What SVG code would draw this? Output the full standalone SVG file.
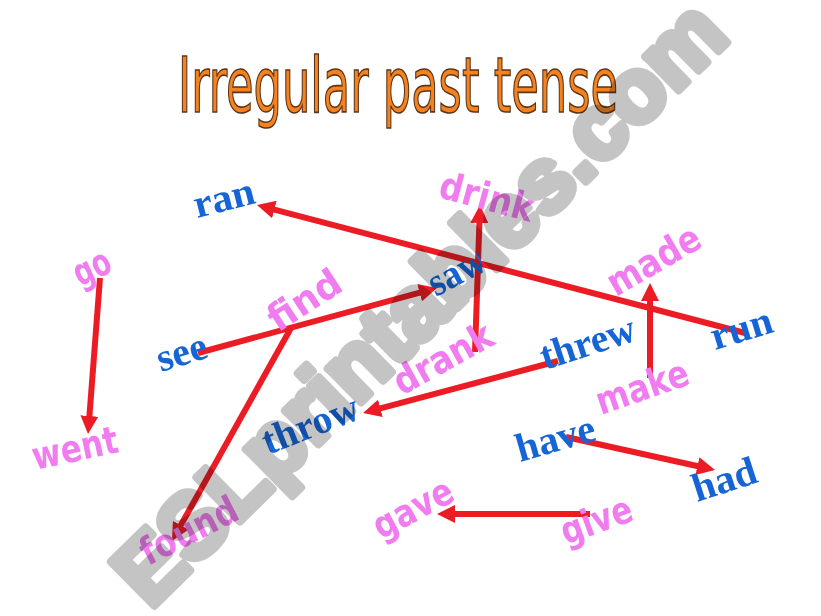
<svg xmlns="http://www.w3.org/2000/svg" width="821" height="616" viewBox="0 0 821 616">
<style>
.title{font-family:"DejaVu Sans Condensed","DejaVu Sans",sans-serif;font-size:76px;fill:#F5821F;stroke:#5A3518;stroke-width:1.6px}
.pink{font-family:"DejaVu Sans","Liberation Sans",sans-serif;font-weight:bold;font-size:38px;fill:#F07CF0}
.blue{font-family:"Liberation Serif","Times New Roman",serif;font-weight:bold;font-size:40px;fill:#1565D6}
.arr{fill:none;stroke:#EC1C24;stroke-width:6;marker-end:url(#ah)}
.wm{font-family:"Liberation Sans",Arial,sans-serif;font-weight:bold;font-size:90px;fill:#C4C4C4;stroke:#C4C4C4;stroke-width:8px;stroke-linejoin:round;mix-blend-mode:multiply}
</style>
<defs>
<marker id="ah" markerUnits="userSpaceOnUse" markerWidth="18" markerHeight="18" refX="3" refY="9" orient="auto">
<path d="M0,0 L18,9 L0,18 z" fill="#EC1C24"/>
</marker>
</defs>
<rect width="821" height="616" fill="#ffffff"/>
<g id="title"><text class="title" x="178" y="112" textLength="440" lengthAdjust="spacingAndGlyphs">Irregular past tense</text></g>
<g id="connectors">
<path class="arr" d="M745,333 L271.5,208.8"/>
<path class="arr" d="M475,352 L479.5,220"/>
<path class="arr" d="M198,353 L422.5,291.9"/>
<path class="arr" d="M291,328 L179.3,527.9"/>
<path class="arr" d="M100,278 L89.2,419"/>
<path class="arr" d="M558,361 L377.5,409.1"/>
<path class="arr" d="M650,378 L650,298"/>
<path class="arr" d="M566,437 L700.4,466.8"/>
<path class="arr" d="M590,514 L452,514"/>
</g>
<g id="node-drink"><text class="pink" transform="translate(437,197) rotate(15)" textLength="96" lengthAdjust="spacingAndGlyphs">drink</text></g>
<g id="node-go"><text class="pink" transform="translate(80,287) rotate(-25)" textLength="38" lengthAdjust="spacingAndGlyphs">go</text></g>
<g id="node-went"><text class="pink" transform="translate(35,470) rotate(-12)" textLength="87" lengthAdjust="spacingAndGlyphs">went</text></g>
<g id="node-find"><text class="pink" transform="translate(278,333) rotate(-33)" textLength="80" lengthAdjust="spacingAndGlyphs">find</text></g>
<g id="node-drank"><text class="pink" transform="translate(402,396) rotate(-29)" textLength="108" lengthAdjust="spacingAndGlyphs">drank</text></g>
<g id="node-made"><text class="pink" transform="translate(616,297) rotate(-30)" textLength="102" lengthAdjust="spacingAndGlyphs">made</text></g>
<g id="node-make"><text class="pink" transform="translate(601,415) rotate(-19)" textLength="96" lengthAdjust="spacingAndGlyphs">make</text></g>
<g id="node-gave"><text class="pink" transform="translate(381,540) rotate(-28)" textLength="86" lengthAdjust="spacingAndGlyphs">gave</text></g>
<g id="node-give"><text class="pink" transform="translate(566,545) rotate(-20)" textLength="74" lengthAdjust="spacingAndGlyphs">give</text></g>
<g id="node-found"><text class="pink" transform="translate(148,566) rotate(-27)" textLength="105" lengthAdjust="spacingAndGlyphs">found</text></g>
<g id="node-ran"><text class="blue" transform="translate(197,218) rotate(-14)" textLength="62" lengthAdjust="spacingAndGlyphs">ran</text></g>
<g id="node-saw"><text class="blue" transform="translate(436,297) rotate(-28)" textLength="60" lengthAdjust="spacingAndGlyphs">saw</text></g>
<g id="node-see"><text class="blue" transform="translate(161,372) rotate(-17)" textLength="51" lengthAdjust="spacingAndGlyphs">see</text></g>
<g id="node-throw"><text class="blue" transform="translate(268,455) rotate(-21.5)" textLength="101" lengthAdjust="spacingAndGlyphs">throw</text></g>
<g id="node-threw"><text class="blue" transform="translate(545,370) rotate(-18)" textLength="98" lengthAdjust="spacingAndGlyphs">threw</text></g>
<g id="node-run"><text class="blue" transform="translate(715,350) rotate(-17)" textLength="63" lengthAdjust="spacingAndGlyphs">run</text></g>
<g id="node-have"><text class="blue" transform="translate(520,462) rotate(-16)" textLength="81" lengthAdjust="spacingAndGlyphs">have</text></g>
<g id="node-had"><text class="blue" transform="translate(697,502) rotate(-18)" textLength="66" lengthAdjust="spacingAndGlyphs">had</text></g>
<g id="watermark"><text class="wm" transform="translate(150,610) rotate(-44.5)" textLength="815" lengthAdjust="spacingAndGlyphs">ESLprintables.com</text></g>
</svg>
